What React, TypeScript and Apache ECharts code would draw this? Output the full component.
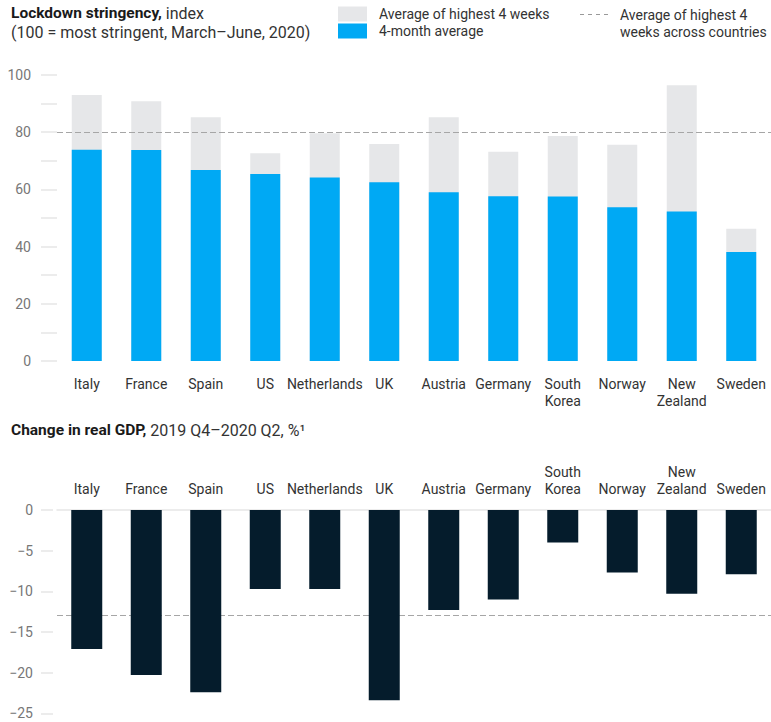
import React, { useEffect, useRef } from "react";
import * as echarts from "echarts";

const categories = ["Italy", "France", "Spain", "US", "Netherlands", "UK", "Austria", "Germany", "South\nKorea", "Norway", "New\nZealand", "Sweden"];
const highest4Weeks = [93.0, 90.8, 85.2, 72.6, 79.6, 75.9, 85.2, 73.2, 78.7, 75.6, 96.4, 46.2];
const fourMonthAvg = [73.9, 73.8, 66.8, 65.4, 64.2, 62.5, 59.0, 57.6, 57.5, 53.8, 52.3, 38.1];
const gdpChange = [-17.1, -20.3, -22.4, -9.7, -9.7, -23.4, -12.3, -11.0, -4.0, -7.7, -10.3, -7.9];
const avgHighestAcross = 80;
const avgGdpAcross = -13;

const FONT = "Roboto";

export default function App() {
  const ref = useRef<HTMLDivElement>(null);
  useEffect(() => {
    if (!ref.current) return;
    const chart = echarts.init(ref.current, undefined, { renderer: "svg" });
    const minus = (v: number) => (v < 0 ? "\u2212" + Math.abs(v) : String(v));
    const titleRich = {
      b: { fontFamily: FONT, fontSize: 15.5, fontWeight: "bold", fill: "#1a1a1a", lineHeight: 19 },
      n: { fontFamily: FONT, fontSize: 16, fill: "#333", lineHeight: 19 },
    };
    chart.setOption({
      animation: false,
      textStyle: { fontFamily: FONT },
      legend: {
        data: ["Average of highest 4 weeks", "4-month average"],
        orient: "vertical",
        left: 338,
        top: 6,
        padding: 0,
        itemWidth: 29,
        itemHeight: 15,
        itemGap: 1,
        icon: "rect",
        selectedMode: false,
        textStyle: { fontFamily: FONT, fontSize: 14, color: "#333", lineHeight: 16, padding: [0, 0, 0, 7] },
      },
      graphic: [
        {
          type: "text",
          left: 11,
          top: 5,
          style: {
            text: "{b|Lockdown stringency,}{n| index}\n{n|(100 = most stringent, March\u2013June, 2020)}",
            rich: titleRich,
          },
        },
        {
          type: "line",
          shape: { x1: 580, y1: 14.5, x2: 608, y2: 14.5 },
          style: { stroke: "#999", lineWidth: 1, lineDash: [4, 4] },
        },
        {
          type: "text",
          left: 620,
          top: 6,
          style: {
            text: "Average of highest 4\nweeks across countries",
            fontFamily: FONT,
            fontSize: 14,
            lineHeight: 17,
            fill: "#333",
          },
        },
        {
          type: "text",
          left: 11,
          top: 422,
          style: {
            text: "{b|Change in real GDP,}{n| 2019 Q4\u20132020 Q2, %\u00b9}",
            rich: titleRich,
          },
        },
      ],
      grid: [
        { left: 57, top: 75, width: 720, height: 286 },
        { left: 57, top: 510, width: 720, height: 203.3 },
      ],
      xAxis: [
        {
          type: "category",
          gridIndex: 0,
          data: categories,
          axisLine: { show: false },
          axisTick: { show: false },
          axisLabel: { margin: 14, fontFamily: FONT, fontSize: 14, color: "#333", lineHeight: 17, interval: 0 },
        },
        {
          type: "category",
          gridIndex: 1,
          position: "top",
          data: categories,
          axisLine: { show: true, onZero: false, lineStyle: { color: "#e6e6e6", width: 1.5 } },
          axisTick: { show: false },
          axisLabel: { margin: 13, fontFamily: FONT, fontSize: 14, color: "#333", lineHeight: 17, interval: 0 },
        },
      ],
      yAxis: [
        {
          type: "value",
          gridIndex: 0,
          min: 0,
          max: 100,
          interval: 10,
          axisLine: { show: false },
          axisTick: { show: true, length: 16, lineStyle: { color: "#e6e6e6", width: 1.5 } },
          splitLine: { show: false },
          axisLabel: {
            margin: 26,
            fontFamily: FONT,
            fontSize: 14,
            color: "#777",
            formatter: (v: number) => (v % 20 === 0 ? String(v) : ""),
          },
        },
        {
          type: "value",
          gridIndex: 1,
          min: -25,
          max: 0,
          interval: 5,
          offset: 4,
          axisLine: { show: false },
          axisTick: { show: true, length: 12, lineStyle: { color: "#e6e6e6", width: 1.5 } },
          splitLine: { show: false },
          axisLabel: { margin: 20, fontFamily: FONT, fontSize: 14, color: "#777", formatter: minus },
        },
      ],
      series: [
        {
          name: "Average of highest 4 weeks",
          type: "bar",
          xAxisIndex: 0,
          yAxisIndex: 0,
          data: highest4Weeks,
          barWidth: 30,
          itemStyle: { color: "#e6e7e9" },
        },
        {
          name: "4-month average",
          type: "bar",
          xAxisIndex: 0,
          yAxisIndex: 0,
          data: fourMonthAvg,
          barWidth: 30,
          barGap: "-100%",
          itemStyle: { color: "#00a9f4" },
          markLine: {
            silent: true,
            symbol: "none",
            label: { show: false },
            z: 5,
            lineStyle: { color: "#a6a6a6", type: [6, 3], width: 1.2 },
            data: [{ yAxis: avgHighestAcross }],
          },
        },
        {
          name: "Change in real GDP",
          type: "bar",
          xAxisIndex: 1,
          yAxisIndex: 1,
          data: gdpChange,
          barWidth: 31,
          itemStyle: { color: "#051c2c" },
          markLine: {
            silent: true,
            symbol: "none",
            label: { show: false },
            z: 1,
            lineStyle: { color: "#a6a6a6", type: [6, 3], width: 1.2 },
            data: [{ yAxis: avgGdpAcross }],
          },
        },
      ],
    });
    return () => chart.dispose();
  }, []);
  return <div ref={ref} style={{ position: "absolute", left: 0, top: 0, width: 771, height: 722 }} />;
}
